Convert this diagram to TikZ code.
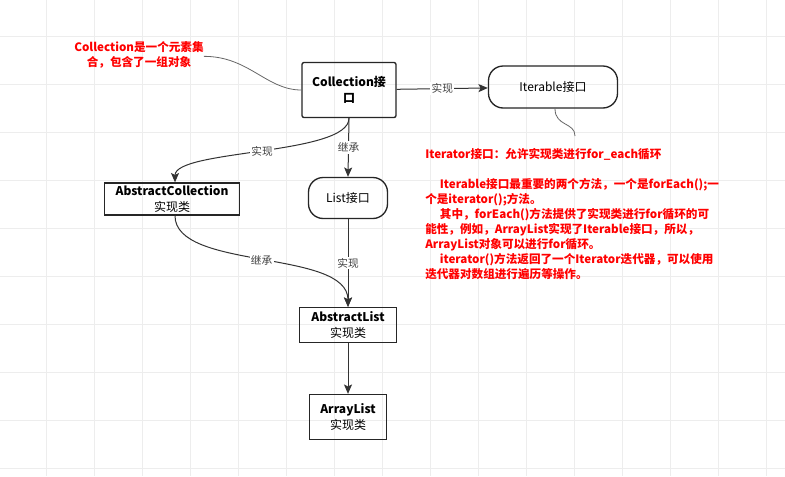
\documentclass[tikz,border=0pt]{standalone}
\usepackage{fontspec}
\newfontfamily\cjk{Noto Sans CJK SC}
\usetikzlibrary{arrows.meta}

\tikzset{
  gridline/.style={draw=black!7, line width=0.5pt},
  classbox/.style={draw=black!85, line width=1pt, inner sep=0pt, align=center,
    font=\cjk\fontsize{9}{12}\selectfont},
  pillbox/.style={classbox, rounded corners=11pt},
  link/.style={draw=black!80, line width=0.75pt, -{Stealth[length=7pt,width=6pt,inset=1.5pt]}},
  tag/.style={fill=white, inner sep=1pt, text=black!75, font=\cjk\fontsize{8}{9}\selectfont},
  remark/.style={text=red, align=left, inner sep=0pt, font=\cjk\bfseries\fontsize{8.7}{11.25}\selectfont},
  remarkline/.style={draw=black!60, line width=0.6pt}
}

\begin{document}
\begin{tikzpicture}[x=0.75pt,y=0.75pt,yscale=-1,xscale=1]
\useasboundingbox (0,0) rectangle (785,476);
\fill[white] (0,0) rectangle (785,476);

%Grid
\foreach \gx in {46,94,...,766}
  \draw[gridline] (\gx,0) -- (\gx,476);
\foreach \gy in {36,84,...,468}
  \draw[gridline] (0,\gy) -- (785,\gy);

%Shape: Rectangle
\node[classbox, rounded corners=1.5pt, minimum width=70.5pt, minimum height=41.25pt] (collection) at (349,90) {\bfseries Collection接\\\bfseries 口};
%Shape: Rounded Rectangle
\node[pillbox, minimum width=96.75pt, minimum height=31.5pt] (iterable) at (553,87) {Iterable接口};
%Shape: Rectangle
\node[classbox, minimum width=101.25pt, minimum height=24pt] (abscoll) at (172,199) {\bfseries AbstractCollection\\实现类};
%Shape: Rounded Rectangle
\node[pillbox, minimum width=59.25pt, minimum height=30.75pt] (list) at (348,198) {List接口};
%Shape: Rectangle
\node[classbox, minimum width=72.75pt, minimum height=26.25pt] (abslist) at (348,325) {\bfseries AbstractList\\实现类};
%Shape: Rectangle
\node[classbox, minimum width=57.75pt, minimum height=33.75pt] (arraylist) at (348,417) {\bfseries ArrayList\\实现类};

% Text Node
\node[remark, align=center] (collnote) at (139,55) {Collection是一个元素集\\合，包含了一组对象};
% Text Node
\node[remark, anchor=north west] (iternote) at (425,148) {Iterator接口：允许实现类进行for\_each循环\\
~\\
\hspace*{11pt}Iterable接口最重要的两个方法，一个是forEach();一\\
个是iterator();方法。\\
\hspace*{11pt}其中，forEach()方法提供了实现类进行for循环的可\\
能性，例如，ArrayList实现了Iterable接口，所以，\\
ArrayList对象可以进行for循环。\\
\hspace*{11pt}iterator()方法返回了一个Iterator迭代器，可以使用\\
迭代器对数组进行遍历等操作。};
\coordinate (iterend) at (575,136);

%Straight Lines
\draw[link] (collection) -- node[tag] {实现} (iterable);
\draw[link] (collection.south) -- node[tag] {继承} (list.north);
\draw[link] (list.south) -- node[tag] {实现} (abslist.north);
\draw[link] (abslist.south) -- (arraylist.north);
%Curve Lines
\draw[link] (collection.south) .. controls +(0,37) and +(0,-33) .. node[tag] {实现} ([xshift=2.25pt]abscoll.north);
\draw[link] ([xshift=2.25pt]abscoll.south) .. controls +(0,55) and +(0,-58) .. node[tag] {继承} (abslist.north);
\draw[remarkline] ([yshift=1pt]collnote.east) .. controls +(45,0) and +(-35,0) .. (collection.west);
\draw[remarkline] ([xshift=1.5pt]iterable.south) .. controls +(0,18) and +(0,-14) .. (iterend);

\end{tikzpicture}
\end{document}
